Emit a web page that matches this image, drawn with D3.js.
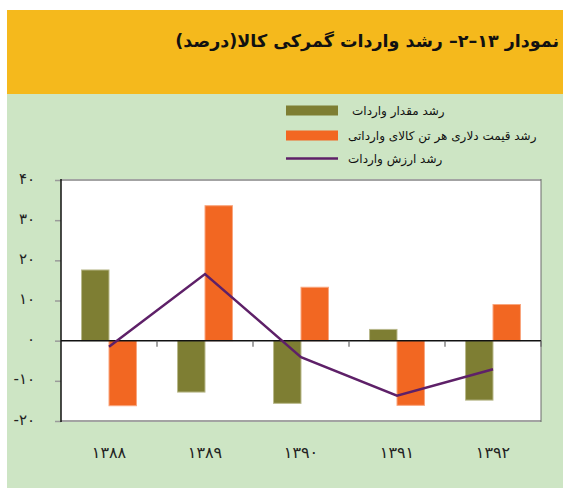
<!DOCTYPE html>
<html><head><meta charset="utf-8">
<script src="https://cdn.jsdelivr.net/npm/d3@7/dist/d3.min.js"></script>
<style>body{margin:0;background:#fff}svg{display:block}text{font-family:"DejaVu Sans",sans-serif}</style>
</head><body>
<script>
const years = ["۱۳۸۸","۱۳۸۹","۱۳۹۰","۱۳۹۱","۱۳۹۲"];
const volumeGrowth = [17.6, -12.8, -15.6, 2.8, -14.8];
const priceGrowth = [-16.2, 33.6, 13.3, -16.1, 9.0];
const valueGrowth = [-1.5, 16.6, -4.1, -13.7, -7.1];
const yTicks = [40, 30, 20, 10, 0, -10, -20];
const seriesNames = ["رشد مقدار واردات", "رشد قیمت دلاری هر تن کالای وارداتی", "رشد ارزش واردات"];
const title = "نمودار ۱۳–۲– رشد واردات گمرکی کالا(درصد)";

const W = 563, H = 488;
const colors = {vol:"#7E7E33", price:"#F26722", line:"#5E2068"};
const toFa = s => String(s).replace(/\d/g, d => "۰۱۲۳۴۵۶۷۸۹"[d]);

const svg = d3.select("body").append("svg").attr("width", W).attr("height", H);
// header and background
svg.append("rect").attr("x",7).attr("y",10).attr("width",W-7).attr("height",84).attr("fill","#F5B91C");
svg.append("rect").attr("x",7).attr("y",94).attr("width",W-7).attr("height",H-94).attr("fill","#CDE5C4");
svg.append("text").attr("x",559).attr("y",47).attr("text-anchor","start").attr("direction","rtl")
  .attr("font-size",17.5).attr("font-weight","bold").attr("fill","#111").text(title);

const L = 61, R = 541, T = 180, B = 421;
const x0 = d3.scaleBand().domain(years).range([L, R]).padding(0);
const bw = x0.bandwidth();
const x1 = d3.scaleBand().domain(["vol","price"]).range([bw*0.214, bw*0.786]).padding(0);
const y = d3.scaleLinear().domain([-20, 40]).range([B, T]);

svg.append("rect").attr("x",L).attr("y",T).attr("width",R-L).attr("height",B-T).attr("fill","#fff");
// top & bottom gray borders
svg.append("line").attr("x1",L).attr("x2",R).attr("y1",T).attr("y2",T).attr("stroke","#A3A3A3").attr("stroke-width",2);
svg.append("line").attr("x1",L).attr("x2",R).attr("y1",B).attr("y2",B).attr("stroke","#A3A3A3").attr("stroke-width",2);
svg.append("line").attr("x1",R).attr("x2",R).attr("y1",T-1).attr("y2",B+1).attr("stroke","#6b6b6b").attr("stroke-width",1);

// y axis
const yAxis = d3.axisLeft(y).tickValues(yTicks).tickSize(6).tickFormat(d => toFa(d));
const gy = svg.append("g").attr("transform",`translate(${L},0)`).call(yAxis);
gy.select(".domain").remove();
gy.selectAll(".tick line").attr("stroke","#9a9a9a").attr("stroke-width",1.5);
gy.selectAll(".tick text").attr("x",-26).attr("dy","0.2em").attr("font-size",15).attr("fill","#222").attr("direction","ltr");
svg.append("line").attr("x1",L).attr("x2",L).attr("y1",T-1).attr("y2",B+1).attr("stroke","#111").attr("stroke-width",1.5);

// bars
const data = years.map((c,i) => ({c, vol:volumeGrowth[i], price:priceGrowth[i]}));
const g = svg.append("g");
["vol","price"].forEach(k => {
  g.selectAll(".b"+k).data(data).join("rect")
    .attr("x", d => x0(d.c) + x1(k))
    .attr("width", x1.bandwidth())
    .attr("y", d => y(Math.max(0, d[k])))
    .attr("height", d => Math.abs(y(d[k]) - y(0)))
    .attr("fill", colors[k])
    .attr("stroke", k==="vol" ? "#B9B98C" : "#F9A67E").attr("stroke-width",1);
});

// zero line & ticks
svg.append("line").attr("x1",L).attr("x2",R).attr("y1",y(0)).attr("y2",y(0)).attr("stroke","#111").attr("stroke-width",1.5);
const xAxis = d3.axisBottom(x0).tickSize(0).tickFormat(d => d);
const gx = svg.append("g").attr("transform",`translate(0,${B})`).call(xAxis);
gx.select(".domain").remove();
gx.selectAll(".tick text").attr("dy",0).attr("y",37).attr("font-size",16).attr("fill","#222").attr("direction","ltr");
svg.selectAll(".cat-tick").data(years.slice(1).concat(["end"])).join("line")
  .attr("x1",(d,i)=> L + bw*(i+1)).attr("x2",(d,i)=> L + bw*(i+1))
  .attr("y1",y(0)).attr("y2",y(0)+6).attr("stroke","#666").attr("stroke-width",1.2);

// line
const line = d3.line().x((d,i)=> x0(years[i]) + bw/2).y(d => y(d));
svg.append("path").datum(valueGrowth).attr("d", line).attr("fill","none")
  .attr("stroke",colors.line).attr("stroke-width",2.5);

// legend
const lg = svg.append("g");
lg.append("rect").attr("x",286).attr("y",105.5).attr("width",52).attr("height",10).attr("fill",colors.vol);
lg.append("rect").attr("x",286).attr("y",130.5).attr("width",52).attr("height",10).attr("fill",colors.price);
lg.append("line").attr("x1",286).attr("x2",338).attr("y1",158.5).attr("y2",158.5).attr("stroke",colors.line).attr("stroke-width",2.5);
[[352,115],[348,140],[348,163]].forEach((p,i) => {
  lg.append("text").attr("x",p[0]).attr("y",p[1]).attr("font-size",12).attr("fill","#111").text(seriesNames[i]);
});
</script>
</body></html>
